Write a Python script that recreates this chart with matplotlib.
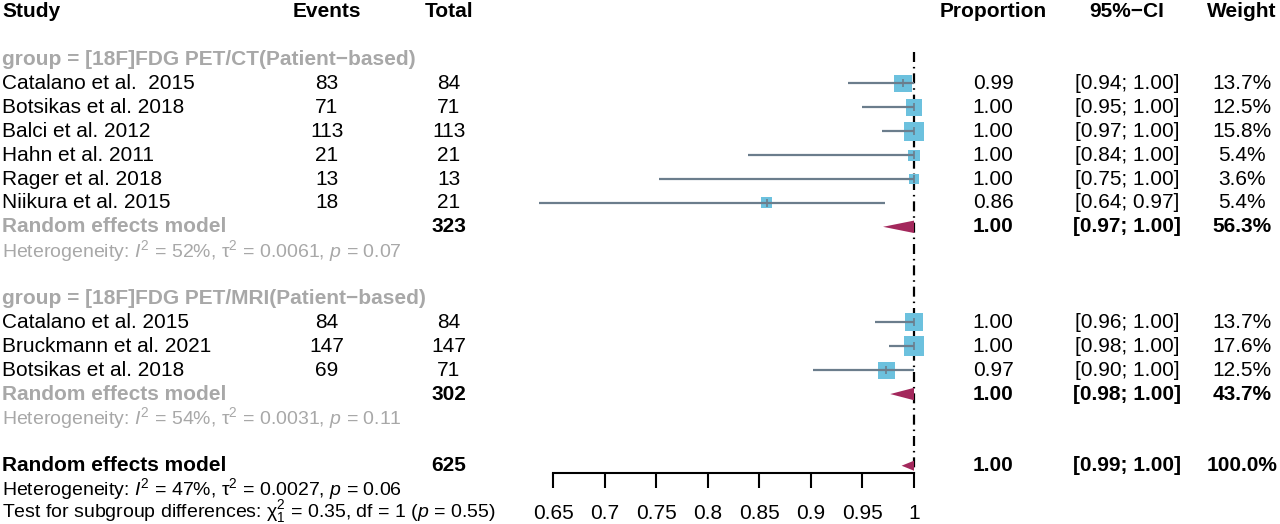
import matplotlib
matplotlib.use('Agg')
import matplotlib.pyplot as plt
import numpy as np

plt.rcParams['font.family'] = ['Liberation Sans', 'DejaVu Sans']
plt.rcParams['mathtext.fontset'] = 'custom'
plt.rcParams['mathtext.rm'] = 'Liberation Sans'
plt.rcParams['mathtext.it'] = 'Liberation Sans:italic'
plt.rcParams['mathtext.bf'] = 'Liberation Sans:bold'

# ---- data: PET/CT subgroup
ct_label = 'group = [18F]FDG PET/CT(Patient\u2212based)'
ct_studies = ['Catalano et al.  2015', 'Botsikas et al. 2018', 'Balci et al. 2012',
              'Hahn et al. 2011', 'Rager et al. 2018', 'Niikura et al. 2015']
ct_events = [83, 71, 113, 21, 13, 18]
ct_total = [84, 71, 113, 21, 13, 21]
ct_prop = [0.989, 1.0, 1.0, 1.0, 1.0, 0.857]
ct_lower = [0.936, 0.950, 0.969, 0.839, 0.753, 0.636]
ct_upper = [1.0, 1.0, 1.0, 1.0, 1.0, 0.972]
ct_weight = [13.7, 12.5, 15.8, 5.4, 3.6, 5.4]
ct_re = [1.0, 0.970, 1.0]          # estimate, lower, upper
ct_re_total = 323
ct_re_weight = 56.3
ct_het = r'Heterogeneity: $I^2$ = 52%, $\mathrm{\tau}^2$ = 0.0061, $p$ = 0.07'

# ---- data: PET/MRI subgroup
mri_label = 'group = [18F]FDG PET/MRI(Patient\u2212based)'
mri_studies = ['Catalano et al. 2015', 'Bruckmann et al. 2021', 'Botsikas et al. 2018']
mri_events = [84, 147, 69]
mri_total = [84, 147, 71]
mri_prop = [1.0, 1.0, 0.973]
mri_lower = [0.962, 0.976, 0.902]
mri_upper = [1.0, 1.0, 1.0]
mri_weight = [13.7, 17.6, 12.5]
mri_re = [1.0, 0.977, 1.0]
mri_re_total = 302
mri_re_weight = 43.7
mri_het = r'Heterogeneity: $I^2$ = 54%, $\mathrm{\tau}^2$ = 0.0031, $p$ = 0.11'

# ---- overall
all_re = [1.0, 0.988, 1.0]
all_total = 625
all_weight = 100.0
all_het = r'Heterogeneity: $I^2$ = 47%, $\mathrm{\tau}^2$ = 0.0027, $p$ = 0.06'
subgroup_test = r'Test for subgroup differences: $\mathrm{\chi}^2_1$ = 0.35, df = 1 ($p$ = 0.55)'

xticks = [0.65, 0.7, 0.75, 0.8, 0.85, 0.9, 0.95, 1]
xticklabels = ['0.65', '0.7', '0.75', '0.8', '0.85', '0.9', '0.95', '1']

# colours
sq_col = '#6CC1DE'
ci_col = '#6B7D8C'
dia_col = '#A3285C'
grey = '#A8A8A8'

W, H = 1280, 524
fig = plt.figure(figsize=(12.8, 5.24), dpi=100)

# row -> pixel: y = y0 + dy*row
y0, dy = 11.8, 23.89
r_top = -y0 / dy
r_bot = (H - y0) / dy
r_axis = (473 - y0) / dy

# text layer, x in pixels, y in rows
tx = fig.add_axes([0, 0, 1, 1])
tx.set_xlim(0, W)
tx.set_ylim(r_bot, r_top)
tx.axis('off')

# forest layer
fa = fig.add_axes([553 / W, (H - 473) / H, 361 / W, 473 / H])
fa.set_xlim(0.65, 1.0)
fa.set_ylim(r_axis, r_top)
for s in ['top', 'right', 'left']:
    fa.spines[s].set_visible(False)
fa.spines['bottom'].set_linewidth(1.5)
fa.set_yticks([])
fa.set_xticks(xticks)
fa.set_xticklabels(xticklabels)
fa.tick_params(axis='x', length=11, width=1.5, pad=11, labelsize=15)
fa.patch.set_alpha(0)

fs = 15
fs_het = 14
col_events, col_total = 327, 449
col_prop, col_ci, col_w = 993, 1127, 1242

# header
tx.text(2, 0, 'Study', fontsize=fs, fontweight='bold', va='center')
tx.text(col_events, 0, 'Events', fontsize=fs, fontweight='bold', va='center', ha='center')
tx.text(col_total, 0, 'Total', fontsize=fs, fontweight='bold', va='center', ha='center')
tx.text(col_prop, 0, 'Proportion', fontsize=fs, fontweight='bold', va='center', ha='center')
tx.text(col_ci, 0, '95%\u2212CI', fontsize=fs, fontweight='bold', va='center', ha='center')
tx.text(col_w, 0, 'Weight', fontsize=fs, fontweight='bold', va='center', ha='center')

# reference line at 1
fa.plot([1, 1], [1.7, r_axis], color='black', lw=1.6,
        linestyle=(0, (4.5, 2.2, 0.7, 2.2)), clip_on=False, zorder=1)


def diamond(row, est, lo, hi, h=0.26):
    xs = [lo, est, hi, est]
    ys = [row, row - h, row, row + h]
    fa.fill(xs, ys, color=dia_col, clip_on=False, zorder=4, lw=0)


def stat_cols(row, est, lo, hi, w, bold=False):
    fw = 'bold' if bold else 'normal'
    tx.text(col_prop, row, f'{est:.2f}', fontsize=fs, ha='center', va='center', fontweight=fw)
    tx.text(col_ci, row, f'[{lo:.2f}; {hi:.2f}]', fontsize=fs, ha='center', va='center', fontweight=fw)
    tx.text(col_w, row, f'{w:.1f}%', fontsize=fs, ha='center', va='center', fontweight=fw)


def draw_group(r0, label, studies, events, total, prop, lower, upper, weight,
               re, re_total, re_weight, het):
    tx.text(2, r0, label, fontsize=fs, fontweight='bold', color=grey, va='center')
    rows = r0 + 1 + np.arange(len(studies))
    for i, r in enumerate(rows):
        tx.text(2, r, studies[i], fontsize=fs, va='center')
        tx.text(col_events, r, str(events[i]), fontsize=fs, va='center', ha='center')
        tx.text(col_total, r, str(total[i]), fontsize=fs, va='center', ha='center')
        stat_cols(r, prop[i], lower[i], upper[i], weight[i])
    side_pt = 4.8 * 0.72 * np.sqrt(np.array(weight))
    fa.scatter(prop, rows, marker='s', s=side_pt ** 2, color=sq_col, lw=0,
               zorder=3, clip_on=False)
    fa.hlines(rows, lower, upper, color=ci_col, lw=1.6, zorder=4, clip_on=False)
    fa.scatter(prop, rows, marker='|', s=40, color=ci_col, lw=1.2, zorder=4, clip_on=False)
    rr = rows[-1] + 1
    tx.text(2, rr, 'Random effects model', fontsize=fs, fontweight='bold', color=grey, va='center')
    tx.text(col_total, rr, str(re_total), fontsize=fs, fontweight='bold', va='center', ha='center')
    stat_cols(rr, re[0], re[1], re[2], re_weight, bold=True)
    diamond(rr, *re)
    tx.text(2, rr + 1, het, fontsize=fs_het, color=grey, va='center')


draw_group(2, ct_label, ct_studies, ct_events, ct_total, ct_prop, ct_lower, ct_upper,
           ct_weight, ct_re, ct_re_total, ct_re_weight, ct_het)
draw_group(12, mri_label, mri_studies, mri_events, mri_total, mri_prop, mri_lower,
           mri_upper, mri_weight, mri_re, mri_re_total, mri_re_weight, mri_het)

# overall
tx.text(2, 19, 'Random effects model', fontsize=fs, fontweight='bold', va='center')
tx.text(col_total, 19, str(all_total), fontsize=fs, fontweight='bold', va='center', ha='center')
stat_cols(19, all_re[0], all_re[1], all_re[2], all_weight, bold=True)
diamond(19, *all_re, h=0.21)
tx.text(2, 19.97, all_het, fontsize=fs_het, va='center')
tx.text(2, 20.93, subgroup_test, fontsize=fs_het, va='center')

fig.savefig('out.png', dpi=100)
